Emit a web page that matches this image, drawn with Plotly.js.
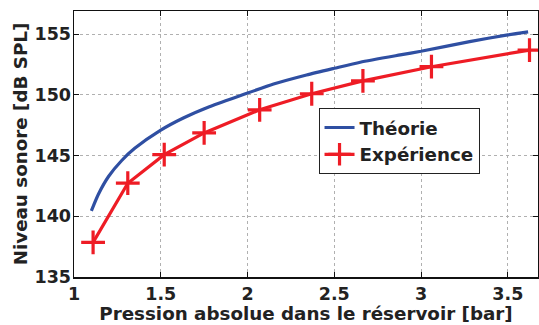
<!DOCTYPE html>
<html>
<head>
<meta charset="utf-8">
<script src="https://cdn.plot.ly/plotly-3.0.1.min.js"></script>
<style>html,body{margin:0;padding:0;background:#fff;}#chart{width:539px;height:325px;}</style>
</head>
<body>
<div id="chart"></div>
<script>
// Theory curve
const theoryX = [1.10, 1.14, 1.20, 1.275, 1.35, 1.50, 1.63, 1.78, 1.96, 2.15, 2.34, 2.50, 2.65, 2.88, 3.00, 3.28, 3.50, 3.617];
const theoryY = [140.45, 141.80, 143.30, 144.60, 145.60, 147.10, 148.10, 149.03, 149.95, 150.90, 151.65, 152.20, 152.70, 153.30, 153.60, 154.40, 154.95, 155.20];
// Experimental points
const expX = [1.11, 1.31, 1.52, 1.75, 2.07, 2.37, 2.665, 3.06, 3.625];
const expY = [137.85, 142.73, 145.08, 146.87, 148.78, 150.10, 151.16, 152.33, 153.70];

const xTickVals = [1, 1.5, 2, 2.5, 3, 3.5];
const xTickText = ['1', '1.5', '2', '2.5', '3', '3.5'];
const yTickVals = [135, 140, 145, 150, 155];
const yTickText = ['135', '140', '145', '150', '155'];

const FONT = {family: 'DejaVu Sans', size: 17.5, color: '#222', weight: 'bold'};
const TITLEFONT = {family: 'DejaVu Sans', size: 18.3, color: '#222', weight: 'bold'};

const traces = [
  {x: theoryX, y: theoryY, name: 'Théorie', mode: 'lines', type: 'scatter',
   line: {color: '#2f4fa2', width: 3.2, shape: 'spline', smoothing: 0.6}},
  {x: expX, y: expY, name: 'Expérience', mode: 'lines+markers', type: 'scatter',
   line: {color: '#ee1c25', width: 3.2},
   marker: {symbol: 'cross-thin', size: 17, color: '#ee1c25', line: {color: '#ee1c25', width: 3.2}}}
];

const axisCommon = {
  showline: true, linecolor: '#111', linewidth: 1.5, mirror: 'ticks',
  ticks: 'inside', ticklen: 5, tickcolor: '#111', tickwidth: 1,
  showgrid: true, gridcolor: '#b0b0b0', griddash: 'dot', gridwidth: 1,
  zeroline: false, tickfont: FONT, automargin: false, fixedrange: true
};

const layout = {
  width: 539, height: 325,
  margin: {l: 74, r: 1, t: 11, b: 48},
  paper_bgcolor: '#fff', plot_bgcolor: '#fff',
  font: FONT,
  showlegend: true,
  legend: {x: 0.527, y: 0.635, xanchor: 'left', yanchor: 'top',
           bgcolor: '#fff', bordercolor: '#222', borderwidth: 1,
           font: TITLEFONT, itemwidth: 30, tracegroupgap: 0},
  xaxis: Object.assign({}, axisCommon, {
    range: [1, 3.674], tickvals: xTickVals, ticktext: xTickText,
    title: {text: 'Pression absolue dans le réservoir [bar]', font: TITLEFONT, standoff: 2}
  }),
  yaxis: Object.assign({}, axisCommon, {
    range: [135, 156.92], tickvals: yTickVals, ticktext: yTickText,
    ticklabelstandoff: -2,
    title: {text: 'Niveau sonore [dB SPL]', font: TITLEFONT, standoff: 2}
  })
};

Plotly.newPlot('chart', traces, layout, {displayModeBar: false, staticPlot: true});
</script>
</body>
</html>
